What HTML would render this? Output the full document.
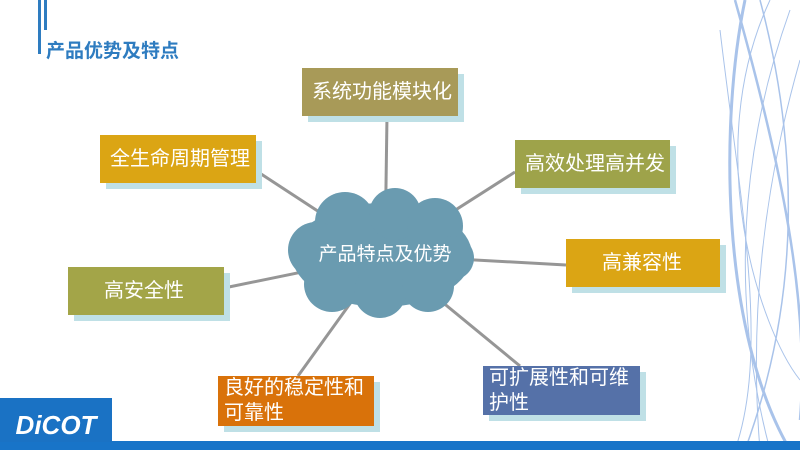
<!DOCTYPE html>
<html><head><meta charset="utf-8"><style>
body{margin:0;width:800px;height:450px;overflow:hidden;background:#fff;font-family:"Liberation Sans","Noto Sans CJK SC",sans-serif;position:relative}
.b{position:absolute;color:#fff;font-size:20px;display:flex;align-items:center;padding-left:10px;box-sizing:border-box;box-shadow:6px 6px 0 #bfe0e6;line-height:25px}
</style></head><body>
<svg width="800" height="450" style="position:absolute;left:0;top:0">
<g fill="none" stroke="#a9c3ea">
<path d="M745 0 C720 120 720 330 790 450" stroke-width="3"/>
<path d="M760 0 C800 150 800 300 745 450" stroke-width="1.5"/>
<path d="M735 0 C780 160 810 300 800 420" stroke-width="2.5"/>
<path d="M790 10 C740 150 730 300 770 450" stroke-width="1"/>
<path d="M770 0 C700 150 760 330 800 380" stroke-width="1"/>
<path d="M800 60 C760 200 750 330 760 450" stroke-width="1"/>
<path d="M720 30 C740 200 770 350 735 450" stroke-width="1"/>
</g>
<rect x="38" y="0" width="3" height="54" fill="#2e7cc0"/>
<rect x="44" y="0" width="3" height="30" fill="#2e7cc0"/>
<rect x="0" y="441" width="800" height="9" fill="#1874c8"/>
<rect x="0" y="398" width="112" height="44" fill="#1a72c4"/>
<g stroke="#969696" stroke-width="3">
<line x1="385" y1="255" x2="387" y2="116"/>
<line x1="385" y1="255" x2="255" y2="170"/>
<line x1="385" y1="255" x2="515" y2="172"/>
<line x1="385" y1="255" x2="566" y2="265"/>
<line x1="385" y1="255" x2="224" y2="288"/>
<line x1="385" y1="255" x2="298" y2="376"/>
<line x1="385" y1="255" x2="520" y2="366"/>
</g>
<g fill="#6a9bb0">
<ellipse cx="382" cy="255" rx="90" ry="52"/>
<circle cx="345" cy="222" r="30"/><circle cx="395" cy="214" r="26"/><circle cx="435" cy="226" r="28"/>
<circle cx="316" cy="250" r="28"/><circle cx="452" cy="258" r="22"/>
<circle cx="332" cy="284" r="28"/><circle cx="380" cy="292" r="26"/><circle cx="428" cy="286" r="26"/>
</g>
<text x="385" y="260" fill="#fff" font-size="19" text-anchor="middle" font-family="Liberation Sans,Noto Sans CJK SC,sans-serif">产品特点及优势</text>
<text x="56" y="434" fill="#fff" font-size="26" font-weight="bold" font-style="italic" text-anchor="middle" font-family="Liberation Sans,sans-serif">DiCOT</text>
</svg>
<div style="position:absolute;left:46px;top:36px;font-size:19px;font-weight:bold;color:#2e7cc0">产品优势及特点</div>
<div class="b" style="left:302px;top:68px;width:156px;height:48px;background:#a89a58">系统功能模块化</div>
<div class="b" style="left:100px;top:135px;width:156px;height:48px;background:#dba514">全生命周期管理</div>
<div class="b" style="left:515px;top:140px;width:155px;height:48px;background:#9ea34a">高效处理高并发</div>
<div class="b" style="left:566px;top:239px;width:154px;height:48px;background:#dba514;padding-left:36px">高兼容性</div>
<div class="b" style="left:68px;top:267px;width:156px;height:48px;background:#a3a548;padding-left:36px">高安全性</div>
<div class="b" style="left:218px;top:376px;width:156px;height:50px;background:#d9720a;padding-left:6px">良好的稳定性和<br>可靠性</div>
<div class="b" style="left:483px;top:366px;width:157px;height:49px;background:#5571a8;padding-left:6px">可扩展性和可维<br>护性</div>
</body></html>
